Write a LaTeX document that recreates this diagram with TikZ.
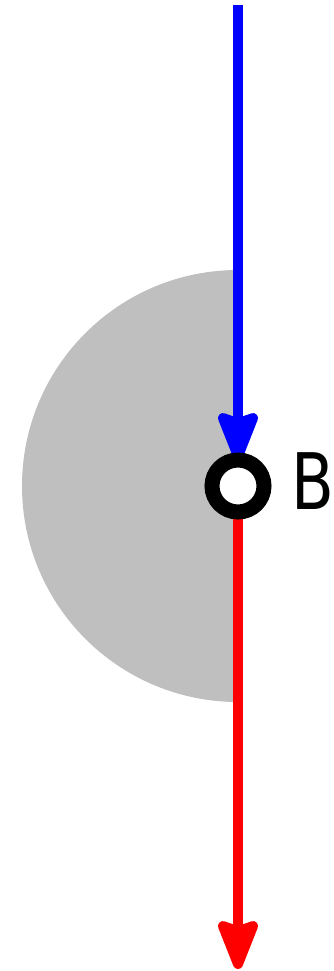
\documentclass[tikz,border=0pt]{standalone}
\usepackage{fontspec}
\setmainfont{DejaVu Sans}
\usetikzlibrary{arrows.meta}
\definecolor{disc}{RGB}{191,191,191}
\tikzset{
  wire/.style={line width=10pt},
  tip/.style={-{Stealth[length=59pt,width=45pt,inset=7pt,round]}},
  point/.style={circle,draw=black,fill=white,line width=15pt,minimum size=52pt,inner sep=0pt}
}
\begin{document}
\begin{tikzpicture}[x=1pt,y=-1pt]
\useasboundingbox (0,0) rectangle (334,971);
\fill[disc] (238,270) arc[start angle=270,end angle=90,radius=216] -- cycle;
\coordinate (Bc) at (238,486);
\coordinate (top) at (238,5);
\coordinate (bot) at (238,969);
\draw[wire,blue,tip,shorten >=25pt] (top) -- (Bc);
\draw[wire,red,tip] (Bc) -- (bot);
\node[point] (B) at (Bc) {};
\node[anchor=west,inner sep=0pt,font=\fontsize{78}{78}\selectfont] (lab) at (291,481.5) {\scalebox{0.8}[1]{B}};
\end{tikzpicture}
\end{document}
